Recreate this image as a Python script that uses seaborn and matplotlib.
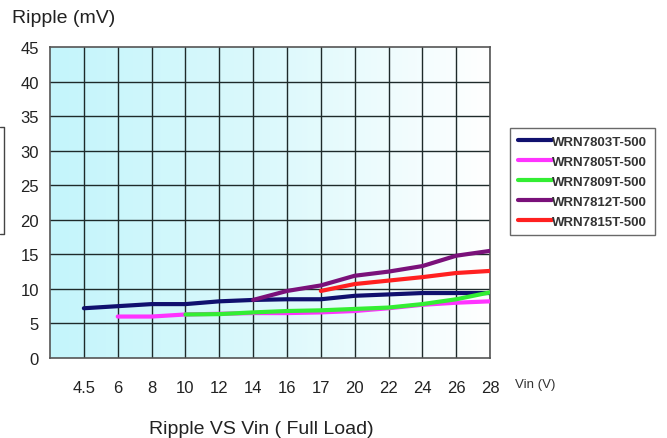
import numpy as np
import pandas as pd
import matplotlib
matplotlib.use("Agg")
import matplotlib.pyplot as plt
import seaborn as sns

vin_labels = ["4.5", "6", "8", "10", "12", "14", "16", "17", "20", "22", "24", "26", "28"]

# None = no point at that input voltage
wrn7803 = [7.2, 7.5, 7.8, 7.8, 8.2, 8.4, 8.5, 8.5, 9.0, 9.2, 9.4, 9.4, 9.4]
wrn7805 = [None, 6.0, 6.0, 6.3, 6.4, 6.5, 6.5, 6.6, 6.8, 7.2, 7.7, 8.0, 8.2]
wrn7809 = [None, None, None, 6.3, 6.35, 6.6, 6.8, 6.9, 7.1, 7.3, 7.8, 8.5, 9.5]
wrn7812 = [None, None, None, None, None, 8.4, 9.7, 10.5, 11.9, 12.5, 13.3, 14.8, 15.5]
wrn7815 = [None, None, None, None, None, None, None, 9.7, 10.7, 11.2, 11.7, 12.3, 12.6]

series_names = ["WRN7803T-500", "WRN7805T-500", "WRN7809T-500", "WRN7812T-500", "WRN7815T-500"]
series_values = [wrn7803, wrn7805, wrn7809, wrn7812, wrn7815]
colors = ["#10106e", "#ff33ff", "#33ee33", "#7a117a", "#ff2020"]

rows = []
for name, vals in zip(series_names, series_values):
    for i, v in enumerate(vals):
        if v is not None:
            rows.append({"pos": i, "ripple": v, "model": name})
df = pd.DataFrame(rows)

sns.set_style("white")
plt.rcParams["font.family"] = ["Liberation Sans", "DejaVu Sans"]

fig = plt.figure(figsize=(6.67, 4.39), dpi=100)
ax = fig.add_axes([0.075, 0.1822, 0.6597, 0.7085])

# cyan -> white gradient background
grad = np.linspace(0, 1, 256).reshape(1, -1)
cmap = matplotlib.colors.LinearSegmentedColormap.from_list("bg", ["#c4f5fb", "#dcf9fc", "#ffffff"])
ax.imshow(grad, extent=[0, 1, 0, 1], transform=ax.transAxes, aspect="auto", cmap=cmap, zorder=0)

sns.lineplot(data=df, x="pos", y="ripple", hue="model", hue_order=series_names,
             palette=colors, linewidth=3, ax=ax, legend=True, zorder=3, estimator=None)

ax.set_xlim(-1, len(vin_labels) - 1)
ax.set_ylim(0, 45)
ax.set_xticks(range(len(vin_labels)))
ax.set_xticklabels(vin_labels)
ax.set_yticks(range(0, 46, 5))
ax.tick_params(axis="x", length=0, pad=16, labelsize=12, colors="#222222")
ax.tick_params(axis="y", length=0, pad=8, labelsize=12, colors="#222222")
for x in range(len(vin_labels)):
    ax.axvline(x, color="#1e2a2a", lw=1, zorder=1)
for y in range(5, 45, 5):
    ax.axhline(y, color="#1e2a2a", lw=1, zorder=1)
for s in ax.spines.values():
    s.set_color("#555555")
    s.set_linewidth(1.2)
ax.set_xlabel("")
ax.set_ylabel("")

leg = ax.legend(loc="upper left", bbox_to_anchor=(1.045, 0.74), frameon=True, fancybox=False,
                handlelength=2.6, handletextpad=0.0, labelspacing=0.58, borderpad=0.6,
                borderaxespad=0, prop={"size": 9.5, "weight": "bold"})
leg.get_frame().set_edgecolor("#444444")
leg.get_frame().set_linewidth(1)
for t in leg.get_texts():
    t.set_color("#333333")

fig.text(0.018, 0.957, "Ripple (mV)", fontsize=14, color="#222222", va="center")
fig.text(0.772, 0.122, "Vin (V)", fontsize=9.5, color="#333333", va="center")
fig.text(0.223, 0.022, "Ripple VS Vin ( Full Load)", fontsize=14, color="#222222", va="center")

# clipped box remnant at left edge
fig.add_artist(plt.Line2D([0, 0.006, 0.006, 0], [1 - 128 / 439, 1 - 128 / 439, 1 - 235 / 439, 1 - 235 / 439],
                          transform=fig.transFigure, color="#444444", lw=1))

fig.savefig("out.png", dpi=100)
